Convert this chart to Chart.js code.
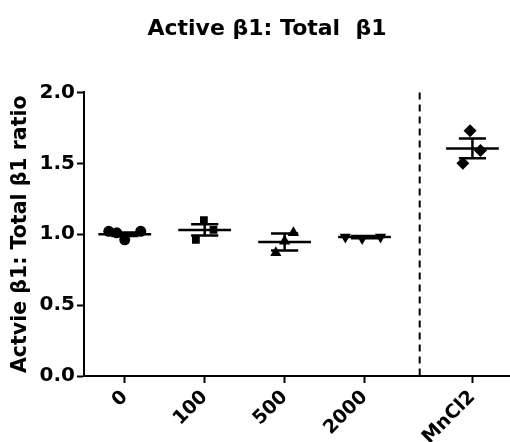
<!DOCTYPE html>
<html><head><meta charset="utf-8">
<script src="https://cdn.jsdelivr.net/npm/chart.js@4"></script>
<style>html,body{margin:0;padding:0;background:#fff}#wrap{width:510px;height:442px}</style>
</head><body><div id="wrap"><canvas id="c"></canvas></div>
<script>
const categories = ['0', '100', '500', '2000', 'MnCl2'];
const categoryX = [0, 1, 2, 3, 4.35];
const dividerX = 3.69;
const yTicks = [0, 0.5, 1.0, 1.5, 2.0];
const vals0 = [1.02, 1.01, 0.96, 1.02];
const jit0 = [-0.2, -0.1, 0.0, 0.2];
const vals100 = [1.10, 1.03, 0.96];
const jit100 = [-0.01, 0.11, -0.11];
const vals500 = [1.01, 0.95, 0.87];
const jit500 = [0.11, 0.0, -0.11];
const vals2000 = [0.98, 0.97, 0.98];
const jit2000 = [-0.24, -0.03, 0.2];
const valsMn = [1.73, 1.59, 1.50];
const jitMn = [-0.03, 0.1, -0.12];
const means = [1.00, 1.03, 0.945, 0.98, 1.605];
const errs = [0.012, 0.04, 0.06, 0.008, 0.07];

const groups = [[vals0, jit0], [vals100, jit100], [vals500, jit500], [vals2000, jit2000], [valsMn, jitMn]];
const styles = ['circle', 'rect', 'triangle', 'triangle', 'rectRot'];
const rotations = [0, 0, 0, 180, 0];
const radii = [5.5, 5.5, 6.5, 6.5, 6.5];

const datasets = groups.map((g, i) => ({
  data: g[0].map((v, k) => ({x: categoryX[i] + g[1][k], y: v})),
  pointStyle: styles[i], rotation: rotations[i], pointRadius: radii[i],
  backgroundColor: '#000', borderColor: '#000', borderWidth: 0, showLine: false
}));

const overlay = {
  id: 'overlay',
  afterLayout(chart) {
    if (chart.titleBlock) chart.titleBlock.left = 24;
  },
  afterDatasetsDraw(chart) {
    const {ctx, scales: {x, y}, chartArea} = chart;
    ctx.save();
    ctx.strokeStyle = '#000';
    ctx.lineWidth = 2.5;
    means.forEach((m, i) => {
      const cx = categoryX[i];
      const ym = y.getPixelForValue(m);
      const yt = y.getPixelForValue(m + errs[i]);
      const yb = y.getPixelForValue(m - errs[i]);
      ctx.beginPath();
      ctx.moveTo(x.getPixelForValue(cx - 0.33), ym); ctx.lineTo(x.getPixelForValue(cx + 0.33), ym);
      ctx.moveTo(x.getPixelForValue(cx - 0.17), yt); ctx.lineTo(x.getPixelForValue(cx + 0.17), yt);
      ctx.moveTo(x.getPixelForValue(cx - 0.17), yb); ctx.lineTo(x.getPixelForValue(cx + 0.17), yb);
      ctx.moveTo(x.getPixelForValue(cx), yt); ctx.lineTo(x.getPixelForValue(cx), yb);
      ctx.stroke();
    });
    const dx = x.getPixelForValue(dividerX);
    ctx.setLineDash([7, 5]);
    ctx.lineWidth = 2;
    ctx.beginPath();
    ctx.moveTo(dx, chartArea.top); ctx.lineTo(dx, chartArea.bottom);
    ctx.stroke();
    ctx.restore();
  }
};

const FONT = "'DejaVu Sans', sans-serif";
new Chart(document.getElementById('c'), {
  type: 'scatter',
  data: {datasets},
  plugins: [overlay],
  options: {
    responsive: true, maintainAspectRatio: false, animation: false,
    layout: {autoPadding: false, padding: {left: 0, right: 0, top: 0, bottom: 0}},
    plugins: {
      legend: {display: false}, tooltip: {enabled: false},
      title: {display: true, text: 'Active β1: Total  β1', color: '#000',
        font: {family: FONT, size: 22, weight: 'bold'}, padding: {top: 16, bottom: 50}}
    },
    scales: {
      x: {
        type: 'linear', min: -0.51, max: 4.82,
        afterBuildTicks: s => { s.ticks = categoryX.map(v => ({value: v})); },
        afterFit: s => { s.height = 66; s.paddingRight = 0; s.paddingLeft = 0; },
        ticks: {autoSkip: false, maxRotation: 45, minRotation: 45, color: '#000', padding: 3,
          font: {family: FONT, size: 19, weight: 'bold'},
          callback: v => { const i = categoryX.indexOf(v); return i >= 0 ? categories[i] : ''; }},
        grid: {drawOnChartArea: false, drawTicks: true, tickLength: 7, tickWidth: 2, color: '#000'},
        border: {display: true, color: '#000', width: 2}
      },
      y: {
        min: 0, max: 2,
        afterBuildTicks: s => { s.ticks = yTicks.map(v => ({value: v})); },
        afterFit: s => { s.width = 84; },
        ticks: {color: '#000', padding: 2, font: {family: FONT, size: 20, weight: 'bold'},
          callback: v => v.toFixed(1)},
        grid: {drawOnChartArea: false, drawTicks: true, tickLength: 7, tickWidth: 2, color: '#000'},
        border: {display: true, color: '#000', width: 2},
        title: {display: true, text: 'Actvie β1: Total β1 ratio', color: '#000',
          font: {family: FONT, size: 20.5, weight: 'bold'}, padding: {top: 8, bottom: 0}}
      }
    }
  }
});
</script></body></html>
